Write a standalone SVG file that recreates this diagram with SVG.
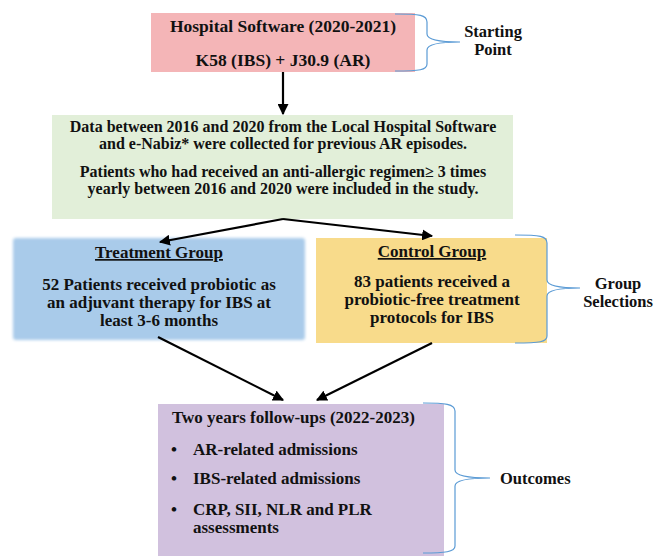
<svg xmlns="http://www.w3.org/2000/svg" width="659" height="556" viewBox="0 0 659 556">
<defs>
<marker id="ah" viewBox="0 0 10 10" refX="9" refY="5" markerWidth="5" markerHeight="5" orient="auto" markerUnits="strokeWidth">
<path d="M0,0 L10,5 L0,10 z" fill="#000"/>
</marker>
<filter id="soft" x="-5%" y="-5%" width="110%" height="110%">
<feGaussianBlur stdDeviation="1.5"/>
</filter>
</defs>
<style>
text{font-family:"Liberation Serif","Times New Roman",serif;font-weight:bold;fill:#111;}
.c{text-anchor:middle;}
.f17{font-size:17.5px;}
.fb{font-size:17px;}
.fp{font-size:17px;}
.fg{font-size:16px;}
.fl{font-size:16.5px;}
.conn{stroke:#000;stroke-width:2.2;fill:none;marker-end:url(#ah);}
.br{stroke:#5b9bd5;stroke-width:1.2;fill:none;}
</style>
<rect width="659" height="556" fill="#fff"/>
<g id="start">
<rect x="151" y="13" width="264" height="59" fill="#f4b5b7"/>
<text class="c f17" x="283" y="32">Hospital Software (2020-2021)</text>
<text class="c f17" x="283" y="66">K58 (IBS) + J30.9 (AR)</text>
</g>
<g id="data">
<rect x="52" y="115" width="461" height="104" fill="#e2efd9"/>
<text class="c fg" x="283" y="132">Data between 2016 and 2020 from the Local Hospital Software</text>
<text class="c fg" x="283" y="148.5">and e-Nabiz* were collected for previous AR episodes.</text>
<text class="c fg" x="283" y="177">Patients who had received an anti-allergic regimen≥ 3 times</text>
<text class="c fg" x="283" y="193.5">yearly between 2016 and 2020 were included in the study.</text>
</g>
<g id="treatment">
<rect x="13" y="238" width="292" height="102" rx="3" fill="#a9cbea" filter="url(#soft)"/>
<text class="c fb" x="159" y="258" text-decoration="underline">Treatment Group</text>
<text class="c fb" x="159" y="290">52 Patients received probiotic as</text>
<text class="c fb" x="159" y="308">an adjuvant therapy for IBS at</text>
<text class="c fb" x="159" y="326">least 3-6 months</text>
</g>
<g id="control">
<rect x="316" y="238" width="231" height="105" fill="#f8db8b"/>
<text class="c fb" x="432" y="257" text-decoration="underline">Control Group</text>
<text class="c fb" x="432" y="287">83 patients received a</text>
<text class="c fb" x="432" y="305">probiotic-free treatment</text>
<text class="c fb" x="432" y="323">protocols for IBS</text>
</g>
<g id="outcomes">
<rect x="158" y="404" width="286" height="152" fill="#d1c1de"/>
<text class="fp" x="172" y="423">Two years follow-ups (2022-2023)</text>
<text class="fp" x="171" y="455">•</text>
<text class="fp" x="193" y="455">AR-related admissions</text>
<text class="fp" x="171" y="484">•</text>
<text class="fp" x="193" y="484">IBS-related admissions</text>
<text class="fp" x="171" y="515">•</text>
<text class="fp" x="193" y="515">CRP, SII, NLR and PLR</text>
<text class="fp" x="193" y="533">assessments</text>
</g>
<g id="labels">
<path class="br" d="M395,14 C420,14 427,15 427,22 L427,34 C427,40 440,42 460,42 C440,42 427,44 427,50 L427,64 C427,70 420,71 395,71"/>
<text class="c fl" x="493" y="37">Starting</text>
<text class="c fl" x="493" y="55">Point</text>
<path class="br" d="M515,235 C540,235 547,236 547,243 L547,280 C547,286 560,288 580,288 C560,288 547,290 547,296 L547,336 C547,342 540,343 515,343"/>
<text class="c fl" x="618" y="289">Group</text>
<text class="c fl" x="618" y="307">Selections</text>
<path class="br" d="M423,403 C445,403 455,404 455,411 L455,470 C455,476 470,478 490,478 C470,478 455,480 455,486 L455,546 C455,552 445,553 423,553"/>
<text class="fl" x="500" y="484">Outcomes</text>
</g>
<g id="connectors">
<line class="conn" x1="283" y1="72" x2="283" y2="114"/>
<polyline class="conn" points="283,219 160,242"/>
<polyline class="conn" points="283,219 432,236"/>
<line class="conn" x1="158" y1="337" x2="283" y2="400"/>
<line class="conn" x1="432" y1="343" x2="317" y2="400"/>
</g>
</svg>
